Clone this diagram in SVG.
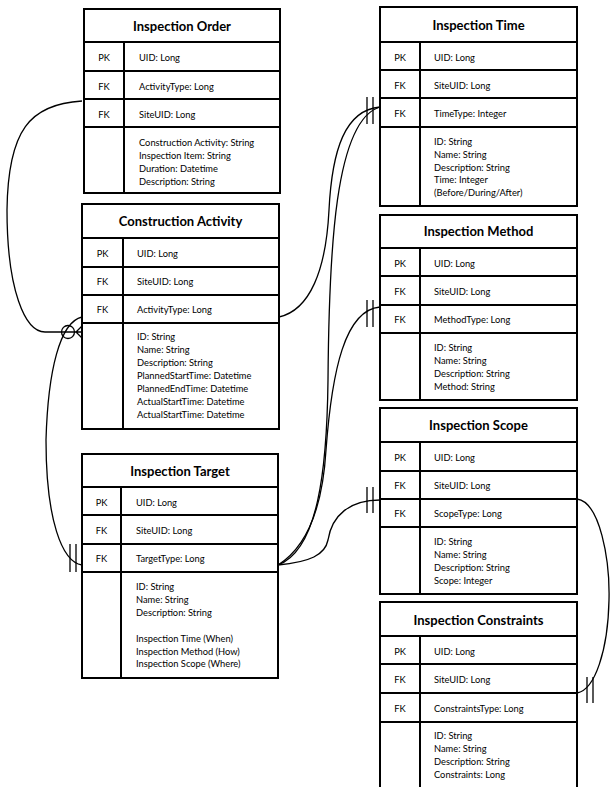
<svg xmlns="http://www.w3.org/2000/svg" width="610" height="787" viewBox="0 0 610 787">
<style>
.box{fill:#fff;stroke:#000;stroke-width:2}
.ln{stroke:#000;stroke-width:2;fill:none}
.h{font-family:Lato,"Liberation Sans",sans-serif;font-weight:bold;font-size:13px;fill:#000;text-anchor:middle}
.k{font-family:Lato,"Liberation Sans",sans-serif;font-size:9.3px;fill:#000;text-anchor:middle}
.t{font-family:Lato,"Liberation Sans",sans-serif;font-size:9.3px;fill:#000}
.c{stroke:#000;stroke-width:1.3;fill:none}
</style>
<g id="connectors">
<path class="c" d="M82,101 C30,104 8,130 7,210 C7,290 25,332 45,332 L76,332"/>
<path class="c" d="M76,332 L82,326 M76,332 L82,332 M76,332 L82,338"/>
<circle class="c" cx="68" cy="332" r="6.5"/>
<path class="c" d="M82,317 C60,322 48,370 46,440 C46,520 62,562 82,565"/>
<path class="c" d="M70,544 V572 M76,544 V572"/>
<path class="c" d="M279,317 C310,310 326,270 329,210 C332,150 345,110 380,107"/>
<path class="c" d="M278,565 C318,550 327,470 328,380 C329,250 335,120 380,107"/>
<path class="c" d="M367,97 V124 M373,97 V124"/>
<path class="c" d="M278,565 C310,545 323,500 326,450 C332,370 345,310 380,307"/>
<path class="c" d="M367,300 V327 M373,300 V327"/>
<path class="c" d="M278,565 C310,562 325,555 328,540 C332,515 350,500 380,500"/>
<path class="c" d="M367,487 V513 M373,487 V513"/>
<path class="c" d="M577,499 C600,502 610,560 609,600 C608,650 595,690 577,693"/>
<path class="c" d="M587,677 V703 M593,677 V703"/>
</g>
<g id="inspection-order">
<rect class="box" x="84" y="9" width="196" height="184"/>
<path class="ln" d="M84,42 H280 M84,71 H280 M84,99 H280 M84,127 H280 M124,42 V193"/>
<text class="h" x="182" y="30.5">Inspection Order</text>
<text class="k" x="104" y="61">PK</text><text class="t" x="139" y="61">UID: Long</text>
<text class="k" x="104" y="89.5">FK</text><text class="t" x="139" y="89.5">ActivityType: Long</text>
<text class="k" x="104" y="117.5">FK</text><text class="t" x="139" y="117.5">SiteUID: Long</text>
<text class="t" x="139" y="145.8">Construction Activity: String</text>
<text class="t" x="139" y="158.7">Inspection Item: String</text>
<text class="t" x="139" y="171.6">Duration: Datetime</text>
<text class="t" x="139" y="184.5">Description: String</text>
</g>
<g id="construction-activity">
<rect class="box" x="82" y="204" width="197" height="225"/>
<path class="ln" d="M82,238 H279 M82,267 H279 M82,295 H279 M82,323 H279 M123,238 V429"/>
<text class="h" x="180.5" y="226">Construction Activity</text>
<text class="k" x="102.5" y="256.5">PK</text><text class="t" x="137" y="256.5">UID: Long</text>
<text class="k" x="102.5" y="285">FK</text><text class="t" x="137" y="285">SiteUID: Long</text>
<text class="k" x="102.5" y="313">FK</text><text class="t" x="137" y="313">ActivityType: Long</text>
<text class="t" x="137" y="340">ID: String</text>
<text class="t" x="137" y="353">Name: String</text>
<text class="t" x="137" y="366">Description: String</text>
<text class="t" x="137" y="379">PlannedStartTime: Datetime</text>
<text class="t" x="137" y="392">PlannedEndTime: Datetime</text>
<text class="t" x="137" y="405">ActualStartTime: Datetime</text>
<text class="t" x="137" y="418">ActualStartTime: Datetime</text>
</g>
<g id="inspection-target">
<rect class="box" x="82" y="454" width="196" height="224"/>
<path class="ln" d="M82,487 H278 M82,515 H278 M82,544 H278 M82,572 H278 M121,487 V678"/>
<text class="h" x="180" y="475.5">Inspection Target</text>
<text class="k" x="101.5" y="505.5">PK</text><text class="t" x="136" y="505.5">UID: Long</text>
<text class="k" x="101.5" y="534">FK</text><text class="t" x="136" y="534">SiteUID: Long</text>
<text class="k" x="101.5" y="562">FK</text><text class="t" x="136" y="562">TargetType: Long</text>
<text class="t" x="136" y="590">ID: String</text>
<text class="t" x="136" y="603">Name: String</text>
<text class="t" x="136" y="616">Description: String</text>
<text class="t" x="136" y="641.5">Inspection Time (When)</text>
<text class="t" x="136" y="654.5">Inspection Method (How)</text>
<text class="t" x="136" y="667">Inspection Scope (Where)</text>
</g>
<g id="inspection-time">
<rect class="box" x="380" y="7" width="197" height="199"/>
<path class="ln" d="M380,42 H577 M380,70 H577 M380,98 H577 M380,127 H577 M420,42 V206"/>
<text class="h" x="478.5" y="29.5">Inspection Time</text>
<text class="k" x="400" y="60.5">PK</text><text class="t" x="434" y="60.5">UID: Long</text>
<text class="k" x="400" y="88.5">FK</text><text class="t" x="434" y="88.5">SiteUID: Long</text>
<text class="k" x="400" y="117">FK</text><text class="t" x="434" y="117">TimeType: Integer</text>
<text class="t" x="434" y="145">ID: String</text>
<text class="t" x="434" y="157.8">Name: String</text>
<text class="t" x="434" y="170.6">Description: String</text>
<text class="t" x="434" y="183.4">Time: Integer</text>
<text class="t" x="434" y="196.2">(Before/During/After)</text>
</g>
<g id="inspection-method">
<rect class="box" x="380" y="215" width="197" height="185"/>
<path class="ln" d="M380,248 H577 M380,276 H577 M380,305 H577 M380,333 H577 M420,248 V400"/>
<text class="h" x="478.5" y="236">Inspection Method</text>
<text class="k" x="400" y="266.5">PK</text><text class="t" x="434" y="266.5">UID: Long</text>
<text class="k" x="400" y="295">FK</text><text class="t" x="434" y="295">SiteUID: Long</text>
<text class="k" x="400" y="323">FK</text><text class="t" x="434" y="323">MethodType: Long</text>
<text class="t" x="434" y="351">ID: String</text>
<text class="t" x="434" y="364">Name: String</text>
<text class="t" x="434" y="377">Description: String</text>
<text class="t" x="434" y="389.5">Method: String</text>
</g>
<g id="inspection-scope">
<rect class="box" x="380" y="408" width="197" height="186"/>
<path class="ln" d="M380,442 H577 M380,471 H577 M380,499 H577 M380,527 H577 M420,442 V594"/>
<text class="h" x="478.5" y="430">Inspection Scope</text>
<text class="k" x="400" y="461">PK</text><text class="t" x="434" y="461">UID: Long</text>
<text class="k" x="400" y="489">FK</text><text class="t" x="434" y="489">SiteUID: Long</text>
<text class="k" x="400" y="517">FK</text><text class="t" x="434" y="517">ScopeType: Long</text>
<text class="t" x="434" y="545">ID: String</text>
<text class="t" x="434" y="558">Name: String</text>
<text class="t" x="434" y="571">Description: String</text>
<text class="t" x="434" y="584">Scope: Integer</text>
</g>
<g id="inspection-constraints">
<rect class="box" x="380" y="602" width="197" height="190"/>
<path class="ln" d="M380,636 H577 M380,664 H577 M380,693 H577 M380,722 H577 M420,636 V792"/>
<text class="h" x="478.5" y="624.5">Inspection Constraints</text>
<text class="k" x="400" y="654.5">PK</text><text class="t" x="434" y="654.5">UID: Long</text>
<text class="k" x="400" y="683">FK</text><text class="t" x="434" y="683">SiteUID: Long</text>
<text class="k" x="400" y="712">FK</text><text class="t" x="434" y="712">ConstraintsType: Long</text>
<text class="t" x="434" y="739">ID: String</text>
<text class="t" x="434" y="752">Name: String</text>
<text class="t" x="434" y="765">Description: String</text>
<text class="t" x="434" y="777.5">Constraints: Long</text>
</g>
</svg>
